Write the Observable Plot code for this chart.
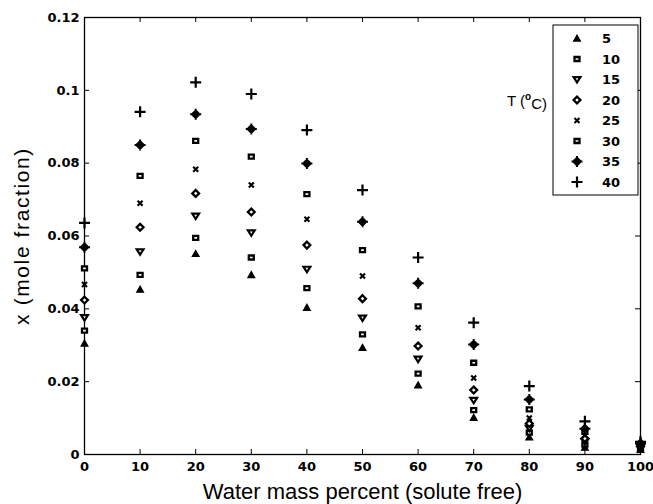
<!DOCTYPE html>
<html>
<head>
<meta charset="utf-8">
<script src="https://cdn.jsdelivr.net/npm/d3@7"></script>
<script src="https://cdn.jsdelivr.net/npm/@observablehq/plot@0.6"></script>
<style>
  html, body { margin: 0; padding: 0; background: white; }
</style>
</head>
<body>
<div id="chart"></div>
<script>
// ---- data ----
const waterPct = [0, 10, 20, 30, 40, 50, 60, 70, 80, 90, 100];
const temps = ["5", "10", "15", "20", "25", "30", "35", "40"];
const t5  = [0.0305, 0.0453, 0.0551, 0.0493, 0.0403, 0.0293, 0.0190, 0.0101, 0.0047, 0.0019, 0.0013];
const t10 = [0.0340, 0.0493, 0.0595, 0.0541, 0.0457, 0.0330, 0.0222, 0.0122, 0.0060, 0.0027, 0.0016];
const t15 = [0.0376, 0.0557, 0.0655, 0.0609, 0.0509, 0.0375, 0.0262, 0.0149, 0.0072, 0.0036, 0.0019];
const t20 = [0.0424, 0.0624, 0.0717, 0.0666, 0.0575, 0.0428, 0.0298, 0.0177, 0.0085, 0.0044, 0.0022];
const t25 = [0.0467, 0.0690, 0.0783, 0.0740, 0.0646, 0.0490, 0.0348, 0.0210, 0.0100, 0.0053, 0.0025];
const t30 = [0.0511, 0.0765, 0.0861, 0.0818, 0.0715, 0.0561, 0.0407, 0.0252, 0.0124, 0.0062, 0.0028];
const t35 = [0.0569, 0.0850, 0.0934, 0.0894, 0.0799, 0.0639, 0.0470, 0.0302, 0.0151, 0.0071, 0.0031];
const t40 = [0.0636, 0.0941, 0.1022, 0.0990, 0.0891, 0.0726, 0.0541, 0.0362, 0.0188, 0.0091, 0.0035];
const xTicks = [0, 10, 20, 30, 40, 50, 60, 70, 80, 90, 100];
const yTicks = [0, 0.02, 0.04, 0.06, 0.08, 0.1, 0.12];
const yTickLabels = ["0", "0.02", "0.04", "0.06", "0.08", "0.1", "0.12"];
const xLabel = "Water mass percent (solute free)";
const yLabel = "x (mole fraction)";
const legendTitle = "T (";
const legendTitleSup = "o";
const legendTitleEnd = "C)";

// ---- marker shapes ----
const triUp = {draw(c) { c.moveTo(0, -3.4); c.lineTo(3.4, 2.6); c.lineTo(-3.4, 2.6); c.closePath(); }};
const square = {draw(c) { c.moveTo(-2.5, -2.0); c.lineTo(2.5, -2.0); c.lineTo(2.5, 2.0); c.lineTo(-2.5, 2.0); c.closePath(); }};
const triDown = {draw(c) { c.moveTo(-3.4, -2.4); c.lineTo(3.4, -2.4); c.lineTo(0, 3.0); c.closePath(); }};
const diamond = {draw(c) { c.moveTo(0, -3.4); c.lineTo(3.4, 0); c.lineTo(0, 3.4); c.lineTo(-3.4, 0); c.closePath(); }};
const times = {draw(c) { c.moveTo(-2.5, -2.5); c.lineTo(2.5, 2.5); c.moveTo(2.5, -2.5); c.lineTo(-2.5, 2.5); }};
const star = {draw(c) {
  c.moveTo(0, -3.8); c.lineTo(3.8, 0); c.lineTo(0, 3.8); c.lineTo(-3.8, 0); c.closePath();
  c.moveTo(-5.5, 0); c.lineTo(5.5, 0); c.moveTo(0, -5.5); c.lineTo(0, 5.5);
}};
const plus = {draw(c) { c.moveTo(-5.5, 0); c.lineTo(5.5, 0); c.moveTo(0, -5.5); c.lineTo(0, 5.5); }};

const seriesValues = [t5, t10, t15, t20, t25, t30, t35, t40];
const styles = [
  {symbol: triUp,   fill: "black", strokeWidth: 1.2},
  {symbol: square,  fill: "white", strokeWidth: 2.3},
  {symbol: triDown, fill: "white", strokeWidth: 2.2},
  {symbol: diamond, fill: "white", strokeWidth: 2.3},
  {symbol: times,   fill: "none",  strokeWidth: 2.1},
  {symbol: square,  fill: "white", strokeWidth: 2.3},
  {symbol: star,    fill: "black", strokeWidth: 2},
  {symbol: plus,    fill: "none",  strokeWidth: 2.2}
];

const W = 653, H = 504;
const mL = 84, mR = 13, mT = 17, mB = 50;
const plotW = W - mL - mR, plotH = H - mT - mB;
const tickLen = 5;

const dotMarks = seriesValues.map((vals, i) =>
  Plot.dot(waterPct.map((w, j) => ({w, v: vals[j], T: temps[i]})), {
    x: "w", y: "v", r: 3,
    symbol: styles[i].symbol, fill: styles[i].fill,
    stroke: "black", strokeWidth: styles[i].strokeWidth
  })
);

const tickFont = "'DejaVu Sans', sans-serif";

const chart = Plot.plot({
  width: W, height: H,
  marginLeft: mL, marginRight: mR, marginTop: mT, marginBottom: mB,
  x: {domain: [0, 100]},
  y: {domain: [0, 0.12]},
  style: {fontFamily: "'Liberation Sans', Arial, sans-serif", background: "white", color: "black"},
  marks: [
    Plot.frame({stroke: "black", strokeWidth: 1.3}),
    Plot.axisX({ticks: xTicks, tickSize: 0, tickPadding: 7, label: null, fontWeight: "bold", fontSize: 13, fontFamily: tickFont, tickFormat: d => String(d)}),
    Plot.axisY({ticks: yTicks, tickSize: 0, tickPadding: 5, label: null, fontWeight: "bold", fontSize: 13, fontFamily: tickFont, tickFormat: d => yTickLabels[yTicks.indexOf(d)]}),
    // inward tick marks on all four sides
    Plot.tickX(xTicks, {x: d => d, insetTop: plotH - tickLen, stroke: "black"}),
    Plot.tickX(xTicks, {x: d => d, insetBottom: plotH - tickLen, stroke: "black"}),
    Plot.tickY(yTicks, {y: d => d, insetRight: plotW - tickLen, stroke: "black"}),
    Plot.tickY(yTicks, {y: d => d, insetLeft: plotW - tickLen, stroke: "black"}),
    ...dotMarks,
    Plot.text([xLabel], {frameAnchor: "bottom", textAnchor: "middle", lineAnchor: "bottom", dy: 44, fontSize: 22, fill: "black"}),
    Plot.text([yLabel], {frameAnchor: "left", textAnchor: "middle", lineAnchor: "middle", dx: -62, rotate: -90, fontSize: 21, fill: "black"})
  ]
});

document.getElementById("chart").appendChild(chart);

// widen the y label a little, like the reference
d3.select(chart).selectAll("text").filter(function() { return this.textContent === yLabel; })
  .attr("letter-spacing", "1.6px");

// ---- legend (inside the plot, top right) ----
const svg = d3.select(chart);
const lg = svg.append("g").attr("class", "legend").attr("text-anchor", "start");
const boxX = 553, boxY = 25, boxW = 85, boxH = 170;
lg.append("rect").attr("x", boxX).attr("y", boxY).attr("width", boxW).attr("height", boxH)
  .attr("fill", "white").attr("stroke", "black").attr("stroke-width", 1);
temps.forEach((t, i) => {
  const cy = boxY + 13.5 + i * 20.5;
  lg.append("path")
    .attr("d", d3.symbol().type(styles[i].symbol)())
    .attr("transform", `translate(${boxX + 24},${cy})`)
    .attr("fill", styles[i].fill).attr("stroke", "black").attr("stroke-width", styles[i].strokeWidth);
  lg.append("text").attr("x", boxX + 49).attr("y", cy).attr("dy", "0.35em")
    .attr("text-anchor", "start")
    .attr("font-family", tickFont).attr("font-weight", "bold").attr("font-size", 13)
    .attr("fill", "black").text(t);
});
const tt = lg.append("text").attr("x", 507).attr("y", 101).attr("dy", "0.35em")
  .attr("text-anchor", "start")
  .attr("font-family", "'Liberation Sans', Arial, sans-serif").attr("font-size", 15).attr("fill", "black");
tt.append("tspan").text(legendTitle);
tt.append("tspan").attr("font-size", 10).attr("dy", "-0.6em").attr("font-weight", "bold").text(legendTitleSup);
tt.append("tspan").attr("dy", "0.6em").text(legendTitleEnd);
</script>
</body>
</html>
